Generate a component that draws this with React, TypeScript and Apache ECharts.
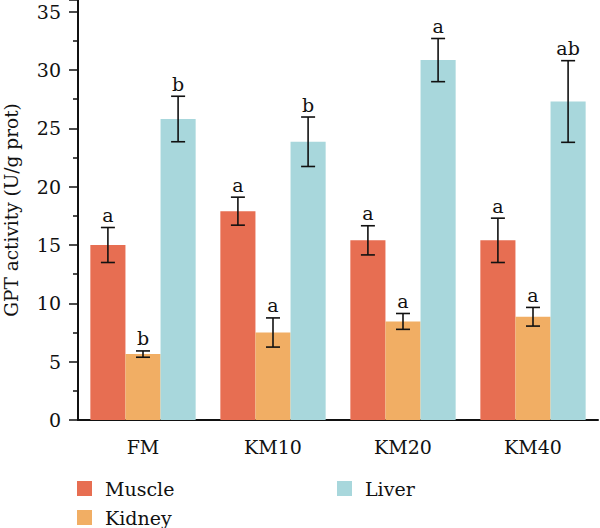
import React, { useEffect, useRef } from "react";
import * as echarts from "echarts";

const categories = ["FM", "KM10", "KM20", "KM40"];
const seriesNames = ["Muscle", "Kidney", "Liver"];
const muscle = [15.0, 17.9, 15.4, 15.4];
const kidney = [5.65, 7.5, 8.45, 8.85];
const liver = [25.8, 23.85, 30.85, 27.3];
const muscleErr = [1.5, 1.2, 1.25, 1.9];
const kidneyErr = [0.27, 1.25, 0.68, 0.8];
const liverErr = [1.95, 2.12, 1.85, 3.5];
const muscleLetters = ["a", "a", "a", "a"];
const kidneyLetters = ["b", "a", "a", "a"];
const liverLetters = ["b", "b", "a", "ab"];
const colors = ["#E76E52", "#F1AE64", "#A8D7DC"];

const FONT = "DejaVu Serif";
const FS = 19;
const BAR_FRAC = 0.27;

// legend entries placed in two columns: Muscle / Kidney on the left, Liver on the right
const legendSlots: [string, number, number][] = [
  ["Muscle", 77, 479],
  ["Kidney", 77, 508],
  ["Liver", 337, 479],
];

export default function App() {
  const ref = useRef<HTMLDivElement>(null);

  useEffect(() => {
    if (!ref.current) return;
    document.body.style.margin = "0";
    const chart = echarts.init(ref.current, undefined, { renderer: "svg" });
    const values = [muscle, kidney, liver];
    const errs = [muscleErr, kidneyErr, liverErr];
    const letters = [muscleLetters, kidneyLetters, liverLetters];

    const barSeries = seriesNames.map((name, i) => ({
      name,
      type: "bar",
      data: values[i],
      barWidth: "27%",
      barGap: "0%",
      itemStyle: { color: colors[i] },
      z: 2,
    }));

    // error bars with significance letters, drawn on top of each bar
    const errSeries = seriesNames.map((name, i) => ({
      name: name + "-err",
      type: "custom",
      z: 5,
      data: values[i].map((v, k) => [k, v, errs[i][k]]),
      renderItem: (params: any, api: any) => {
        const x = api.value(0);
        const v = api.value(1);
        const e = api.value(2);
        const band = api.size([1, 0])[0];
        const off = band * BAR_FRAC * (i - 1);
        const hi = api.coord([x, v + e]);
        const lo = api.coord([x, v - e]);
        const cx = hi[0] + off;
        const cap = 7;
        const st = { stroke: "#111", lineWidth: 1.6 };
        return {
          type: "group",
          children: [
            { type: "line", shape: { x1: cx, y1: hi[1], x2: cx, y2: lo[1] }, style: st },
            { type: "line", shape: { x1: cx - cap, y1: hi[1], x2: cx + cap, y2: hi[1] }, style: st },
            { type: "line", shape: { x1: cx - cap, y1: lo[1], x2: cx + cap, y2: lo[1] }, style: st },
            {
              type: "text",
              x: cx,
              y: hi[1] - 3,
              style: {
                text: letters[i][params.dataIndex],
                fill: "#111",
                font: `${FS}px "${FONT}"`,
                textAlign: "center",
                textVerticalAlign: "bottom",
              },
            },
          ],
        };
      },
    }));

    const legend = legendSlots.map(([name, left, top]) => ({
      data: [name],
      left,
      top,
      padding: 0,
      itemWidth: 15,
      itemHeight: 15,
      icon: "rect",
      textStyle: { fontFamily: FONT, fontSize: FS, color: "#111", padding: [0, 0, 0, 8] },
    }));

    chart.setOption({
      animation: false,
      textStyle: { fontFamily: FONT },
      grid: { left: 78, right: 2, top: 0, bottom: 108, outerBoundsMode: "none" },
      legend,
      xAxis: [
        {
          type: "category",
          data: categories,
          axisLine: { lineStyle: { color: "#111", width: 2 } },
          axisTick: { alignWithLabel: true, length: 7, lineStyle: { color: "#111", width: 1.5 } },
          axisLabel: { fontFamily: FONT, fontSize: FS, color: "#111", margin: 17 },
        },
        {
          type: "category",
          data: categories,
          position: "bottom",
          axisLine: { show: false },
          axisTick: { length: 4, lineStyle: { color: "#111", width: 1.5 } },
          axisLabel: { show: false },
        },
      ],
      yAxis: {
        type: "value",
        min: 0,
        max: 36,
        interval: 5,
        name: "GPT activity (U/g prot)",
        nameLocation: "middle",
        nameGap: 57,
        nameTextStyle: { fontFamily: FONT, fontSize: 18.5, color: "#111" },
        axisLine: { show: true, lineStyle: { color: "#111", width: 2 } },
        axisTick: { show: true, length: 9, lineStyle: { color: "#111", width: 1.5 } },
        minorTick: { show: true, splitNumber: 2, length: 5, lineStyle: { color: "#111", width: 1.5 } },
        splitLine: { show: false },
        axisLabel: { fontFamily: FONT, fontSize: FS, color: "#111", margin: 17 },
      },
      series: [...barSeries, ...errSeries],
    });
    return () => chart.dispose();
  }, []);

  return <div ref={ref} style={{ width: 600, height: 528 }} />;
}
